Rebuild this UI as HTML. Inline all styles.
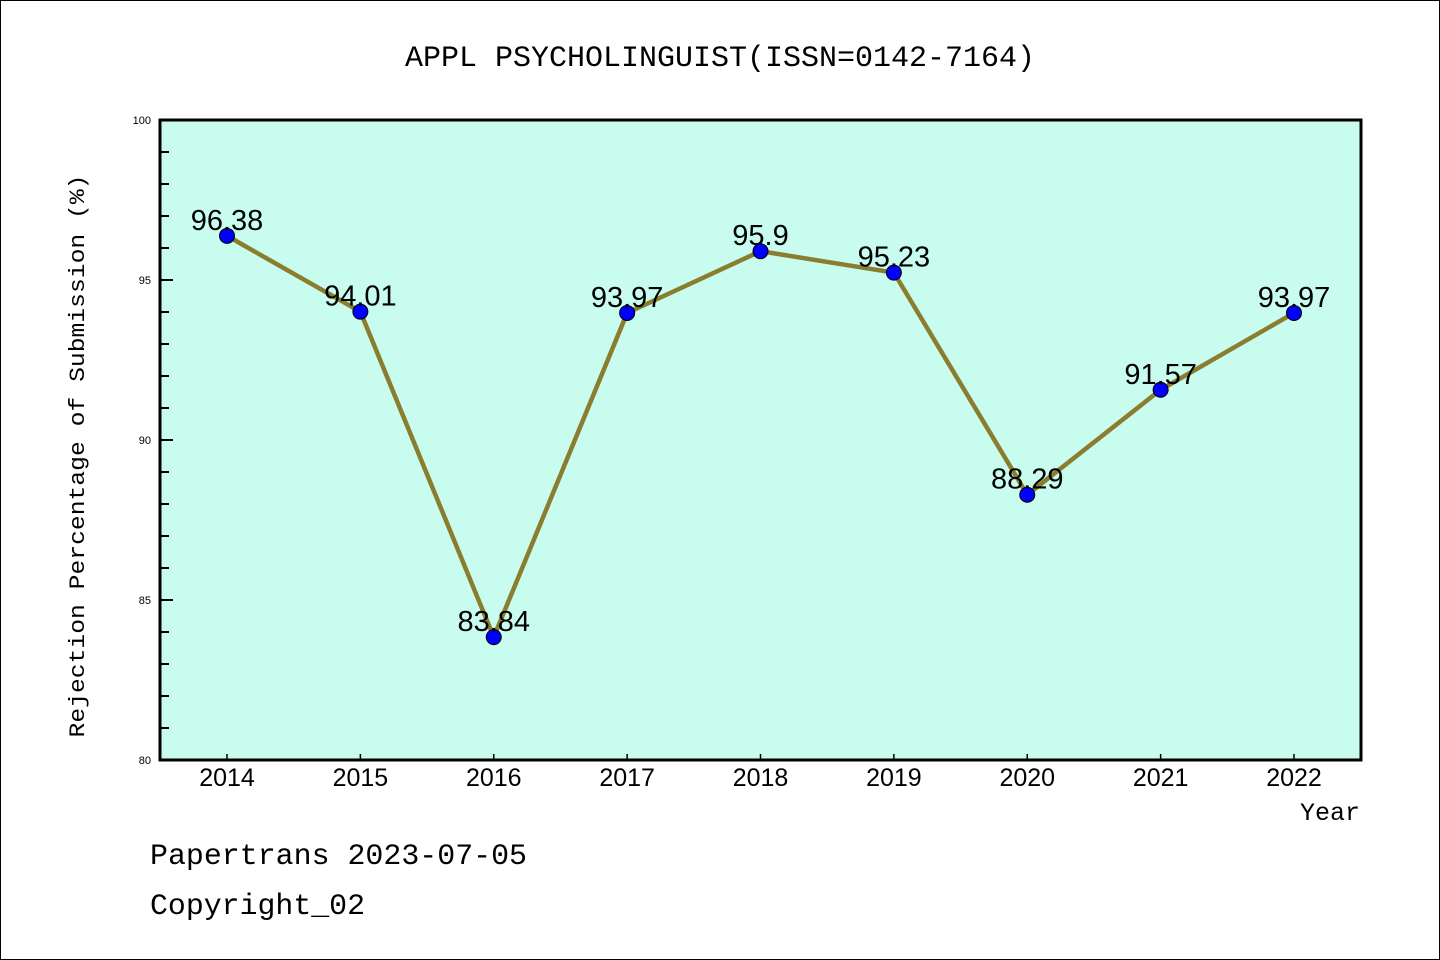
<!DOCTYPE html>
<html><head><meta charset="utf-8"><style>
body{margin:0;background:#fff;}
svg{display:block;font-family:"Liberation Mono","DejaVu Sans Mono",monospace;}
</style></head><body>
<svg id="chart" width="1440" height="960" xmlns="http://www.w3.org/2000/svg">
<rect x="0.5" y="0.5" width="1439" height="959" fill="#fff" stroke="#000"/>
<text x="720" y="66" font-size="30" text-anchor="middle">APPL PSYCHOLINGUIST(ISSN=0142-7164)</text>
<rect x="160" y="120" width="1201" height="640" fill="#c8fcee"/>
<g id="yaxis"></g>
<g id="xaxis"></g>
<g id="series"></g>
<rect x="160" y="120" width="1201" height="640" fill="none" stroke="#000" stroke-width="3"/>
<text x="84" y="456" font-size="22" text-anchor="middle" textLength="563" lengthAdjust="spacingAndGlyphs" transform="rotate(-90 84 456)">Rejection Percentage of Submission (%)</text>
<text x="1360" y="820" font-size="25" text-anchor="end">Year</text>
<text x="150" y="864" font-size="30" textLength="377" lengthAdjust="spacingAndGlyphs">Papertrans 2023-07-05</text>
<text x="150" y="914" font-size="30" textLength="215" lengthAdjust="spacingAndGlyphs">Copyright_02</text>
</svg>
<script>
const years = ["2014","2015","2016","2017","2018","2019","2020","2021","2022"];
const values = [96.38,94.01,83.84,93.97,95.9,95.23,88.29,91.57,93.97];
const labels = ["96.38","94.01","83.84","93.97","95.9","95.23","88.29","91.57","93.97"];
const yTicks = [80,85,90,95,100];
const NS="http://www.w3.org/2000/svg";
const y = v => 760 - (v-80)*32;
const x = i => 227 + i*(1294-227)/(years.length-1);
function mk(t,a,p){const e=document.createElementNS(NS,t);for(const k in a)e.setAttribute(k,a[k]);p.appendChild(e);return e;}
const ya=document.getElementById('yaxis'), xa=document.getElementById('xaxis'), s=document.getElementById('series');
for(let v=80;v<=100;v++){
  const major=yTicks.includes(v);
  const l=mk('line',{x1:160,x2:major?173:169,y1:y(v),y2:y(v),stroke:'#000','stroke-width':2},ya);
  
  
}
yTicks.forEach(v=>{
  const t=mk('text',{x:151,y:y(v)+4,'font-size':11,'text-anchor':'end','font-family':'Liberation Sans, sans-serif'},ya);
  t.textContent=v;
  
  
});
years.forEach((yr,i)=>{
  const l=mk('line',{x1:x(i),x2:x(i),y1:760,y2:754,stroke:'#000','stroke-width':1.5},xa);
  
  
  const t=mk('text',{x:x(i),y:786,'font-size':25,'text-anchor':'middle','font-family':'Liberation Sans, sans-serif'},xa);
  t.textContent=yr;
  
  
});
const pl=mk('polyline',{points:values.map((v,i)=>x(i)+','+y(v)).join(' '),fill:'none',stroke:'#8b7d2e','stroke-width':4.5},s);


values.forEach((v,i)=>{
  const c=mk('circle',{cx:x(i),cy:y(v),r:7.5,fill:'#0000ff',stroke:'#000','stroke-width':1},s);
  
  
  const t=mk('text',{x:x(i),y:y(v)-6,'font-size':29,'text-anchor':'middle','font-family':'Liberation Sans, sans-serif'},s);
  t.textContent=labels[i];
  
  
});
</script>
</body></html>
